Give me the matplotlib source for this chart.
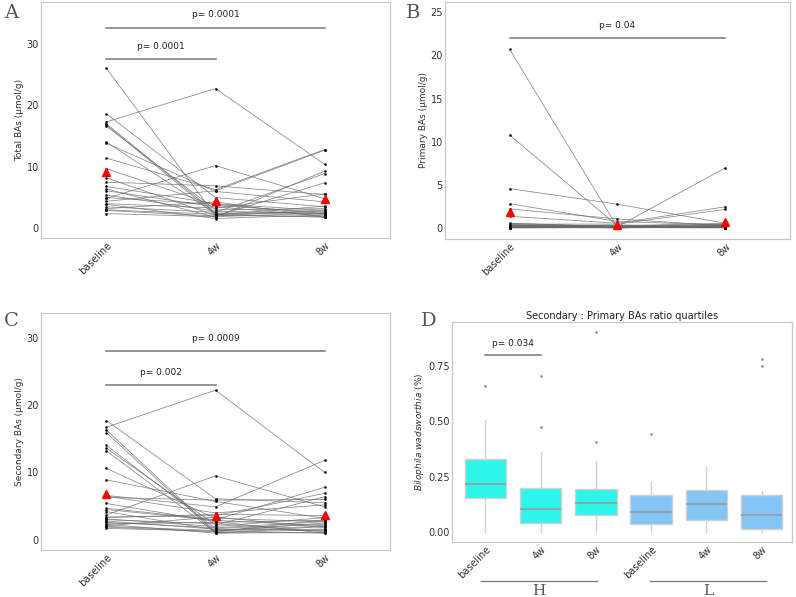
import numpy as np
import matplotlib
matplotlib.use("Agg")
import matplotlib.pyplot as plt

# time points
timepoints = ["baseline", "4w", "8w"]

# A: total BAs per subject (baseline, 4w, 8w)
total_base = [26.0, 17.3, 18.6, 17.0, 16.8, 16.6, 14.0, 13.8, 11.4, 9.7, 8.2, 7.5, 6.8,
              6.4, 6.1, 5.4, 4.9, 4.4, 4.0, 3.9, 3.5, 3.2, 2.9, 2.4, 5.0, 3.0]
total_4w = [2.0, 22.7, 5.0, 2.5, 2.2, 3.0, 2.4, 6.0, 6.3, 3.7, 2.1, 6.9, 4.0,
            1.8, 3.5, 2.8, 10.2, 6.1, 3.3, 1.6, 2.6, 4.3, 2.0, 1.9, 3.9, 2.3]
total_8w = [3.0, 10.4, 3.5, 2.3, 3.6, 3.2, 2.7, 4.3, 12.8, 2.6, 1.9, 5.5, 2.9,
            9.3, 2.0, 2.4, 4.8, 12.7, 5.6, 2.2, 8.9, 1.8, 7.4, 2.5, 2.4, 1.8]

# B: primary BAs
prim_base = [20.7, 10.8, 4.6, 2.86, 2.25, 1.4, 0.6, 0.5, 0.55, 0.4, 0.3, 0.25, 0.2,
             0.15, 0.1, 0.35, 0.2, 0.1, 0.45, 0.3, 0.05, 0.2, 0.15, 0.1, 0.3, 0.25]
prim_4w = [0.15, 0.3, 2.8, 0.8, 1.1, 0.6, 0.2, 0.5, 0.25, 0.1, 0.35, 0.2, 0.1,
           0.4, 0.15, 0.05, 0.3, 0.1, 0.2, 0.15, 0.1, 0.25, 0.05, 0.2, 0.1, 0.3]
prim_8w = [0.3, 0.2, 0.6, 0.4, 0.3, 2.5, 7.0, 2.2, 0.5, 0.2, 0.15, 0.3, 0.1,
           0.25, 0.1, 0.35, 0.2, 0.45, 0.1, 0.3, 0.05, 0.15, 0.2, 0.1, 0.25, 0.6]

# C: secondary BAs
sec_base = [17.7, 16.7, 16.3, 15.9, 14.0, 13.6, 13.2, 10.6, 8.9, 6.6, 6.3, 5.4, 4.7,
            4.2, 3.7, 3.4, 3.0, 2.6, 2.1, 1.7, 3.1, 2.8, 6.5, 4.5, 2.3, 2.0, 2.4, 3.3, 1.9]
sec_4w = [6.1, 22.2, 1.2, 1.0, 1.7, 2.2, 1.1, 3.2, 5.7, 4.9, 5.9, 2.7, 3.0,
          1.5, 9.5, 3.6, 2.4, 1.8, 3.4, 1.3, 2.0, 1.6, 4.0, 2.9, 1.0, 1.4, 2.6, 3.8, 1.2]
sec_8w = [5.5, 10.0, 3.0, 2.0, 2.3, 6.4, 1.5, 2.7, 3.2, 11.8, 6.0, 1.0, 7.8,
          2.0, 4.9, 6.9, 1.2, 2.7, 1.8, 2.5, 3.3, 1.4, 5.2, 2.1, 1.1, 1.6, 2.9, 3.6, 1.0]

# D: Bilophila wadsworthia box stats, H then L
box_labels = ["baseline", "4w", "8w", "baseline", "4w", "8w"]
box_q1 = [0.153, 0.042, 0.078, 0.039, 0.055, 0.016]
box_med = [0.218, 0.105, 0.131, 0.092, 0.126, 0.077]
box_q3 = [0.329, 0.200, 0.195, 0.167, 0.191, 0.167]
box_lo = [0.0, 0.0, 0.0, 0.0, 0.0, 0.0]
box_hi = [0.506, 0.362, 0.321, 0.225, 0.293, 0.188]
box_fliers = [[0.661], [0.476, 0.705], [0.406, 0.905], [0.442], [], [0.750, 0.784]]
box_colors = ["#2ef5ea"] * 3 + ["#84c5f8"] * 3

letter_font = dict(family="DejaVu Serif", fontsize=14, color="#555555")
spine_col = "#c8c8c8"
text_col = "#333333"


def style_axes(ax):
    for s in ax.spines.values():
        s.set_color(spine_col)
        s.set_linewidth(0.9)
    ax.tick_params(length=0, pad=1.5, labelsize=7, labelcolor=text_col)


def paired_panel(ax, base, w4, w8, ylabel, ylim, yticks, brackets):
    data = np.array([base, w4, w8])
    x = np.arange(3)
    for i in range(data.shape[1]):
        ax.plot(x, data[:, i], color="#6a6a6a", lw=0.55, alpha=0.8,
                marker="o", ms=1.0, mfc="black", mec="black", zorder=2)
    ax.plot(x, data.mean(axis=1), linestyle="none", marker="^", ms=5.5,
            color="red", zorder=3)
    ax.set_xlim(-0.6, 2.6)
    ax.set_ylim(*ylim)
    ax.set_yticks(yticks)
    ax.set_xticks(x)
    ax.set_xticklabels(timepoints, rotation=45, ha="right", rotation_mode="anchor",
                       fontsize=6.5)
    ax.set_ylabel(ylabel, fontsize=6.5, color=text_col, labelpad=2)
    for x0, x1, yb, label in brackets:
        ax.plot([x0, x1], [yb, yb], color="#777777", lw=1.1)
        ax.text((x0 + x1) / 2, yb + (ylim[1] - ylim[0]) * 0.035, label,
                ha="center", va="bottom", fontsize=6.5, color="#222222")
    style_axes(ax)


fig = plt.figure(figsize=(7.96, 5.97), dpi=100)

axA = fig.add_axes([0.0515, 0.601, 0.4385, 0.396])
paired_panel(axA, total_base, total_4w, total_8w, "Total BAs (\u03bcmol/g)",
             (-1.6, 36.8), [0, 10, 20, 30],
             [(0, 2, 32.6, "p= 0.0001"), (0, 1, 27.5, "p= 0.0001")])

axB = fig.add_axes([0.559, 0.600, 0.4334, 0.397])
paired_panel(axB, prim_base, prim_4w, prim_8w, "Primary BAs (\u03bcmol/g)",
             (-1.2, 26.2), [0, 5, 10, 15, 20, 25],
             [(0, 2, 22.0, "p= 0.04")])

axC = fig.add_axes([0.0515, 0.0787, 0.4385, 0.3965])
paired_panel(axC, sec_base, sec_4w, sec_8w, "Secondary BAs (\u03bcmol/g)",
             (-1.5, 33.6), [0, 10, 20, 30],
             [(0, 2, 28.0, "p= 0.0009"), (0, 1, 23.0, "p= 0.002")])

# D: boxplots
axD = fig.add_axes([0.5682, 0.0916, 0.4268, 0.3695])
stats = []
for i in range(len(box_labels)):
    stats.append(dict(q1=box_q1[i], med=box_med[i], q3=box_q3[i],
                      whislo=box_lo[i], whishi=box_hi[i], fliers=box_fliers[i]))
bp = axD.bxp(stats, positions=np.arange(6), widths=0.75, patch_artist=True,
             showcaps=False,
             boxprops=dict(edgecolor="#d0d0d0", linewidth=1.0),
             medianprops=dict(color="#9a9a9a", linewidth=1.2),
             whiskerprops=dict(color="#d0d0d0", linewidth=1.0),
             flierprops=dict(marker="o", ms=1.0, mfc="#999999", mec="#999999"))
for patch, c in zip(bp["boxes"], box_colors):
    patch.set_facecolor(c)
axD.set_xlim(-0.6, 5.55)
axD.set_ylim(-0.045, 0.95)
axD.set_yticks([0, 0.25, 0.5, 0.75])
axD.set_yticklabels(["0.00", "0.25", "0.50", "0.75"])
axD.set_xticks(np.arange(6))
axD.set_xticklabels(box_labels, rotation=45, ha="right", rotation_mode="anchor",
                    fontsize=6.5)
axD.set_ylabel(r"$\it{Bilophila\ wadsworthia}$ (%)", fontsize=6.5, color=text_col,
               labelpad=2)
axD.set_title("Secondary : Primary BAs ratio quartiles", fontsize=7, color="#222222",
              pad=2)
axD.plot([0, 1], [0.80, 0.80], color="#777777", lw=1.1)
axD.text(0.5, 0.83, "p= 0.034", ha="center", va="bottom", fontsize=6.5, color="#222222")
style_axes(axD)

# group labels under D
fig.add_artist(plt.Line2D([481 / 796, 597 / 796], [1 - 581 / 597] * 2,
                          color="#777777", lw=0.9))
fig.add_artist(plt.Line2D([650 / 796, 766 / 796], [1 - 581 / 597] * 2,
                          color="#777777", lw=0.9))
fig.text(539 / 796, 1 - 591 / 597, "H", ha="center", va="center",
         family="DejaVu Serif", fontsize=11, color="#555555")
fig.text(708 / 796, 1 - 591 / 597, "L", ha="center", va="center",
         family="DejaVu Serif", fontsize=11, color="#555555")

# panel letters
fig.text(4 / 796, 1 - 13 / 597, "A", ha="left", va="center", **letter_font)
fig.text(406 / 796, 1 - 13 / 597, "B", ha="left", va="center", **letter_font)
fig.text(4 / 796, 1 - 321 / 597, "C", ha="left", va="center", **letter_font)
fig.text(421 / 796, 1 - 321 / 597, "D", ha="left", va="center", **letter_font)

fig.savefig("out.png", dpi=100)
